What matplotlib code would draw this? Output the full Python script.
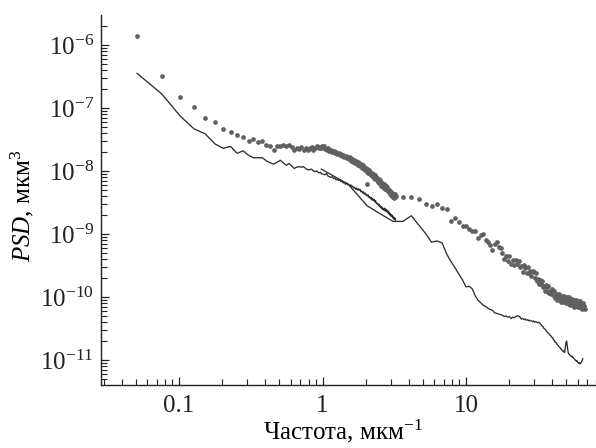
import numpy as np
import matplotlib
matplotlib.use("Agg")
import matplotlib.pyplot as plt
from matplotlib.ticker import LogLocator, NullFormatter, FixedLocator, FixedFormatter

plt.rcParams["font.family"] = ["Liberation Serif", "DejaVu Serif"]
plt.rcParams["mathtext.fontset"] = "custom"
plt.rcParams["mathtext.rm"] = "Liberation Serif"
plt.rcParams["mathtext.it"] = "Liberation Serif:italic"

# ---- short scan (fine frequency step), µm^-1 ----
freq_short = [
    0.051, 0.076, 0.102, 0.127, 0.152, 0.178, 0.203, 0.229, 0.254, 0.279,
    0.305, 0.330, 0.356, 0.381, 0.406, 0.432, 0.457, 0.483, 0.508, 0.533,
    0.559, 0.584, 0.610, 0.635, 0.660, 0.686, 0.711, 0.737, 0.762, 0.787,
    0.813, 0.838, 0.864, 0.889, 0.914, 0.940, 0.965, 0.991, 1.016, 1.041,
    1.067, 1.092, 1.118, 1.143, 1.168, 1.194, 1.219, 1.245, 1.270, 1.295,
    1.321, 1.346, 1.372, 1.397, 1.422, 1.448, 1.473, 1.499, 1.524, 1.549,
    1.575, 1.600, 1.626, 1.651, 1.676, 1.702, 1.727, 1.753, 1.778, 1.803,
    1.829, 1.854, 1.880, 1.905, 1.930, 1.956, 1.981, 2.007, 2.032, 2.057,
    2.083, 2.108, 2.134, 2.159, 2.184, 2.210, 2.235, 2.261, 2.286, 2.311,
    2.337, 2.362, 2.388, 2.413, 2.438, 2.464, 2.489, 2.515, 2.540, 2.565,
    2.591, 2.616, 2.642, 2.667, 2.692, 2.718, 2.743, 2.769, 2.794, 2.819,
    2.845, 2.870, 2.896, 2.921, 2.946, 2.972, 2.997, 3.023, 3.048, 3.073,
    3.099, 3.124, 3.150, 3.175, 3.200, 3.226,
]
# log10(PSD), dotted series
lg_dots_short = [
    -5.85, -6.50, -6.83, -6.98, -7.16, -7.22, -7.34, -7.38, -7.43, -7.46,
    -7.52, -7.49, -7.54, -7.52, -7.58, -7.60, -7.67, -7.61,
    -7.60, -7.58, -7.61, -7.59, -7.62, -7.66, -7.63, -7.65, -7.62, -7.66,
    -7.63, -7.67, -7.64, -7.62, -7.66, -7.63, -7.61, -7.64, -7.62, -7.60,
    -7.61, -7.65, -7.67, -7.64, -7.69, -7.67, -7.70, -7.68, -7.72, -7.70,
    -7.73, -7.71, -7.75, -7.73, -7.76, -7.74, -7.78, -7.76, -7.79, -7.77,
    -7.81, -7.78, -7.84, -7.81, -7.86, -7.82, -7.87, -7.84, -7.89, -7.85,
    -7.90, -7.87, -7.92, -7.89, -7.95, -7.91, -7.97, -7.93, -7.99, -7.95,
    -8.01, -7.97, -8.03, -7.99, -8.05, -8.01, -8.07, -8.03, -8.09, -8.05,
    -8.11, -8.07, -8.13, -8.09, -8.15, -8.11, -8.17, -8.13, -8.19, -8.15,
    -8.21, -8.17, -8.23, -8.19, -8.25, -8.21, -8.27, -8.23, -8.29, -8.24,
    -8.30, -8.26, -8.32, -8.28, -8.34, -8.30, -8.36, -8.32, -8.38, -8.33,
    -8.40, -8.35, -8.41, -8.37, -8.43, -8.36, -8.42, -8.39,
]
# log10(PSD), solid series
lg_line_short = [
    -6.45, -6.78, -7.13, -7.33, -7.41, -7.57, -7.64, -7.61, -7.72, -7.68,
    -7.75, -7.79, -7.79, -7.79, -7.84, -7.87, -7.89, -7.86, -7.83, -7.87,
    -7.91, -7.88, -7.92, -7.96, -7.94, -7.93, -7.94, -7.93, -7.96, -7.98,
    -7.98, -7.97, -8.00, -8.01, -8.00, -8.03, -8.02, -8.05, -8.05,
    -8.06, -8.04, -8.08, -8.09, -8.10, -8.09, -8.12, -8.11, -8.14, -8.13,
    -8.15, -8.14, -8.17, -8.16, -8.19, -8.18, -8.21, -8.19, -8.22, -8.21,
    -8.24, -8.22, -8.25, -8.24, -8.27, -8.26, -8.29, -8.27, -8.30, -8.28,
    -8.31, -8.29, -8.33, -8.32, -8.35, -8.33, -8.37, -8.35, -8.38, -8.37,
    -8.40, -8.38, -8.42, -8.41, -8.44, -8.42, -8.46, -8.44, -8.47, -8.45,
    -8.49, -8.47, -8.51, -8.50, -8.53, -8.52, -8.55, -8.53, -8.57, -8.56,
    -8.59, -8.57, -8.61, -8.60, -8.62, -8.59, -8.63, -8.60, -8.64, -8.61,
    -8.65, -8.63, -8.67, -8.65, -8.69, -8.67, -8.71, -8.69, -8.72, -8.70,
    -8.74, -8.72, -8.76, -8.74, -8.77, -8.75, -8.78,
]

# ---- long scan (coarse frequency step), µm^-1 ----
freq_long = [
    0.98, 1.51, 2.04, 2.57, 3.10, 3.63, 4.16, 4.69, 5.22, 5.75,
    6.28, 6.81, 7.34, 7.87, 8.40, 8.93, 9.46, 9.99, 10.52, 11.05,
    11.58, 12.11, 12.64, 13.17, 13.70, 14.23, 14.76, 15.29, 15.82, 16.35,
    16.88, 17.41, 17.94, 18.47, 19.00, 19.53, 20.06, 20.59, 21.12, 21.65,
    22.18, 22.71, 23.24, 23.77, 24.30, 24.83, 25.36, 25.89, 26.42, 26.95,
    27.48, 28.01, 28.54, 29.07, 29.60, 30.13, 30.66, 31.19, 31.72, 32.25,
    32.78, 33.31, 33.84, 34.37, 34.90, 35.43, 35.96, 36.49, 37.02, 37.55,
    38.08, 38.61, 39.14, 39.67, 40.20, 40.73, 41.26, 41.79, 42.32, 42.85,
    43.38, 43.91, 44.44, 44.97, 45.50, 46.03, 46.56, 47.09, 47.62, 48.15,
    48.68, 49.21, 49.74, 50.27, 50.80, 51.33, 51.86, 52.39, 52.92, 53.45,
    53.98, 54.51, 55.04, 55.57, 56.10, 56.63, 57.16, 57.69, 58.22, 58.75,
    59.28, 59.81, 60.34, 60.87, 61.40, 61.93, 62.46, 62.99, 63.52, 64.05,
    64.58, 65.11, 65.64, 66.17, 66.70, 67.23,
]
lg_dots_long = [
    -7.63, -7.80, -8.21, -8.24, -8.41, -8.42, -8.42, -8.44, -8.53, -8.55,
    -8.52, -8.59, -8.60, -8.79, -8.75, -8.81, -8.88, -8.88, -8.92, -8.95,
    -8.95, -9.07, -9.02, -9.00, -9.10, -9.12, -9.18, -9.25, -9.16, -9.13,
    -9.20, -9.23, -9.30, -9.40,
    -9.35, -9.43, -9.35, -9.47, -9.42, -9.50, -9.42, -9.48, -9.43, -9.53,
    -9.51, -9.60, -9.50, -9.54, -9.62, -9.52, -9.62, -9.59, -9.66, -9.58,
    -9.61, -9.70, -9.62, -9.75, -9.71, -9.80, -9.73, -9.79, -9.74, -9.84,
    -9.82, -9.91, -9.81, -9.84, -9.92, -9.83, -9.93, -9.90, -9.96, -9.88,
    -9.90, -9.98, -9.90, -10.02, -9.97, -10.04, -9.96, -10.01, -9.95, -10.04,
    -10.00, -10.08, -9.98, -10.00, -10.08, -9.98, -10.07, -10.04, -10.09, -10.00,
    -10.02, -10.09, -10.00, -10.11, -10.05, -10.12, -10.04, -10.09, -10.03, -10.12,
    -10.09, -10.16, -10.05, -10.08, -10.15, -10.05, -10.14, -10.11, -10.16, -10.07,
    -10.09, -10.16, -10.07, -10.18, -10.12, -10.19, -10.11, -10.16, -10.09, -10.18,
    -10.14, -10.19,
]
lg_line_long = [
    -7.97, -8.21, -8.55, -8.69, -8.80, -8.80, -8.71, -8.86, -8.99, -9.13,
    -9.11, -9.14, -9.32, -9.44, -9.54, -9.64, -9.73, -9.84, -9.83, -9.87,
    -9.98, -10.05, -10.09, -10.13, -10.15, -10.18, -10.20, -10.21, -10.25, -10.26,
    -10.27, -10.28, -10.29, -10.31,
    -10.30, -10.32, -10.31, -10.34, -10.32, -10.33, -10.31, -10.30, -10.30, -10.32,
    -10.35, -10.34, -10.36, -10.35, -10.37, -10.36, -10.38, -10.37, -10.38, -10.39,
    -10.38, -10.40, -10.39, -10.40, -10.41, -10.40, -10.42, -10.44, -10.46, -10.47,
    -10.50, -10.51, -10.52, -10.55, -10.56, -10.58, -10.59, -10.61, -10.62, -10.64,
    -10.65, -10.68, -10.69, -10.72, -10.72, -10.74, -10.76, -10.77, -10.79, -10.80,
    -10.81, -10.83, -10.84, -10.85, -10.87, -10.86, -10.88, -10.80, -10.72, -10.70,
    -10.78, -10.86, -10.90, -10.91, -10.92, -10.93, -10.94, -10.95, -10.94, -10.96,
    -10.97, -10.98, -10.99, -11.00, -11.01, -11.02, -11.01, -11.03, -11.04, -11.05,
    -11.04, -11.06, -11.06, -11.05, -11.04, -11.02, -11.00, -10.98,
]

x_ticks = [0.1, 1, 10]
x_tick_labels = ["0.1", "1", "10"]

dot_color = "#606060"
line_color = "#2e2e2e"


def pair(freq, lg):
    n = min(len(freq), len(lg))
    return np.asarray(freq[:n]), 10.0 ** np.asarray(lg[:n])


fig = plt.figure(figsize=(5.96, 4.48), dpi=100)
ax = fig.add_axes([0.1695, 0.1406, 0.8305, 0.8259])

for freq, lg in [(freq_short, lg_dots_short), (freq_long, lg_dots_long)]:
    f, p = pair(freq, lg)
    ax.plot(f, p, "o", ms=3.4, color=dot_color, mec="none", zorder=2)

for freq, lg in [(freq_short, lg_line_short), (freq_long, lg_line_long)]:
    f, p = pair(freq, lg)
    ax.plot(f, p, "-", lw=0.95, color=line_color, zorder=3)

ax.set_xscale("log")
ax.set_yscale("log")
ax.set_xlim(0.0286, 80.5)
ax.set_ylim(10 ** -11.397, 10 ** -5.524)

ax.xaxis.set_major_locator(FixedLocator(x_ticks))
ax.xaxis.set_major_formatter(FixedFormatter(x_tick_labels))
ax.xaxis.set_minor_locator(LogLocator(base=10, subs=np.arange(2, 10), numticks=100))
ax.xaxis.set_minor_formatter(NullFormatter())
ax.yaxis.set_major_locator(LogLocator(base=10, numticks=100))
ax.yaxis.set_minor_locator(LogLocator(base=10, subs=np.arange(2, 10), numticks=100))
ax.yaxis.set_minor_formatter(NullFormatter())

for side in ["top", "right"]:
    ax.spines[side].set_visible(False)
for side in ["left", "bottom"]:
    ax.spines[side].set_linewidth(1.0)
    ax.spines[side].set_color("#222222")

ax.tick_params(which="both", direction="in", colors="#222222", labelcolor="#222222")
ax.tick_params(which="major", length=6, width=0.9, labelsize=18)
ax.tick_params(which="minor", length=4, width=0.8)
ax.tick_params(axis="y", which="major", pad=5)
ax.tick_params(axis="x", which="major", pad=7)

ax.set_xlabel("Частота, мкм$^{-1}$", fontsize=18)
ax.set_ylabel("$PSD$, мкм$^{3}$", fontsize=18)
ax.xaxis.set_label_coords(0.489, -0.088)
ax.yaxis.set_label_coords(-0.131, 0.485)

fig.savefig("out.png", dpi=100)
